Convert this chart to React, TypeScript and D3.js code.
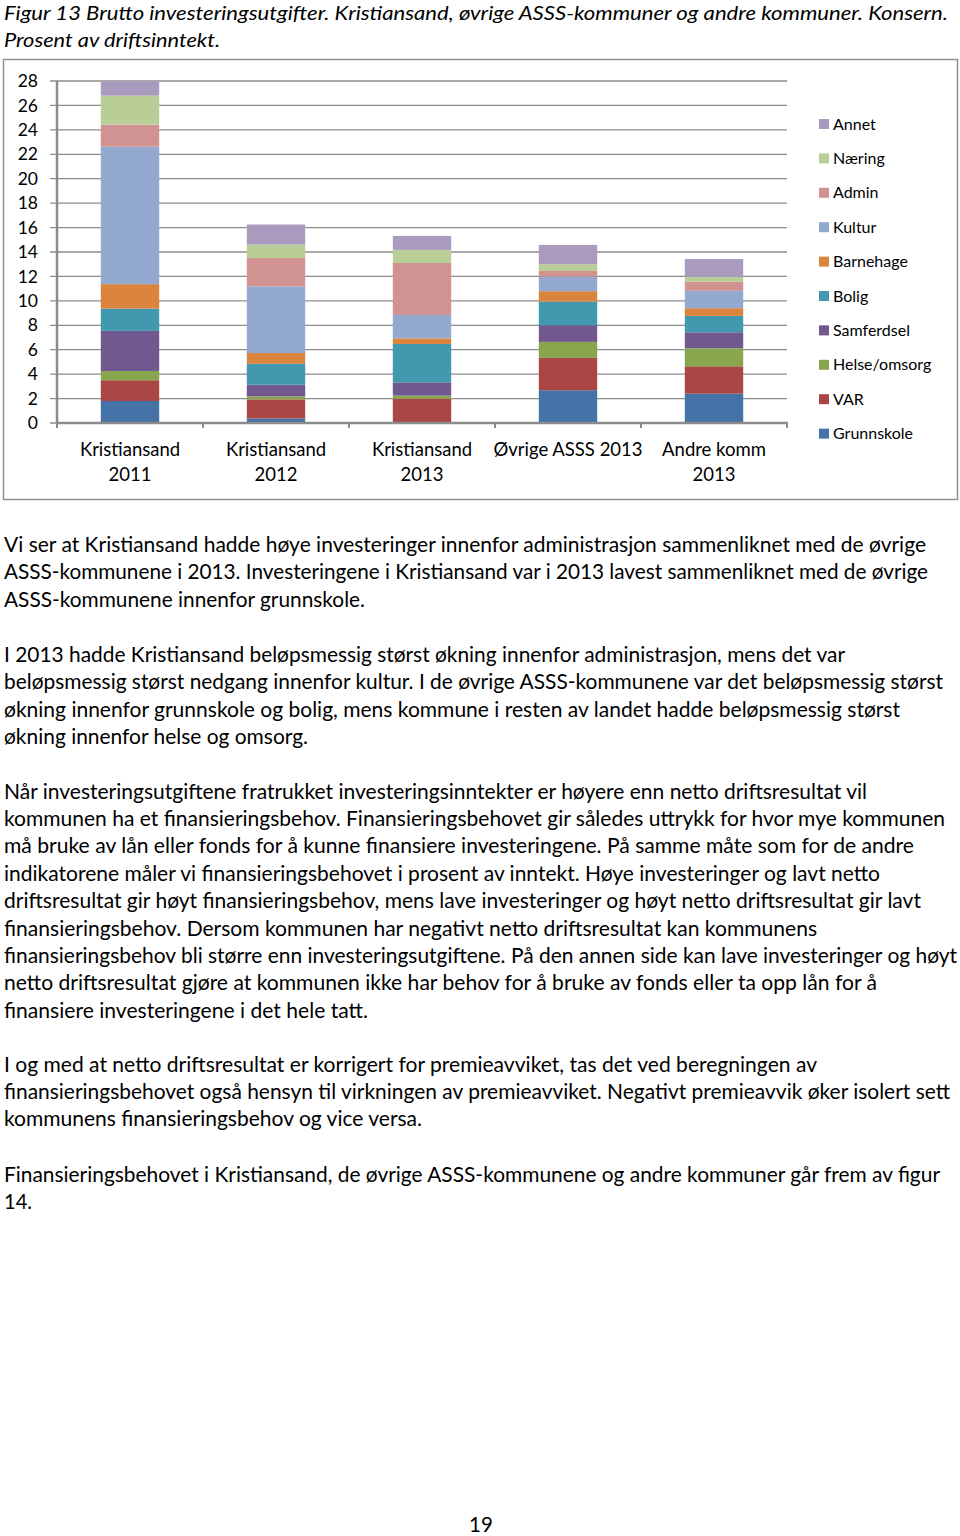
import React from "react";
import * as d3 from "d3";

const categories: string[][] = [
  ["Kristiansand", "2011"],
  ["Kristiansand", "2012"],
  ["Kristiansand", "2013"],
  ["Øvrige ASSS 2013"],
  ["Andre komm", "2013"],
];
const catKeys = ["K2011", "K2012", "K2013", "ASSS2013", "Andre2013"];

const seriesNames = ["Grunnskole", "VAR", "Helse/omsorg", "Samferdsel", "Bolig", "Barnehage", "Kultur", "Admin", "Næring", "Annet"];
const seriesColors = ["#4572A7", "#AA4643", "#89A54E", "#71588F", "#4198AF", "#DB843D", "#93A9CF", "#D19392", "#B9CD96", "#A99BBD"];

const grunnskole = [1.8, 0.38, 0.0, 2.68, 2.4];
const varVals = [1.7, 1.55, 1.99, 2.65, 2.24];
const helse = [0.76, 0.25, 0.25, 1.31, 1.48];
const samferdsel = [3.28, 0.95, 1.09, 1.36, 1.31];
const bolig = [1.83, 1.72, 3.14, 1.94, 1.34];
const barnehage = [2.0, 0.88, 0.46, 0.85, 0.63];
const kultur = [11.25, 5.46, 1.91, 1.2, 1.42];
const admin = [1.81, 2.32, 4.26, 0.46, 0.74];
const naering = [2.37, 1.1, 1.07, 0.55, 0.41];
const annet = [1.15, 1.64, 1.15, 1.58, 1.45];

const seriesValues = [grunnskole, varVals, helse, samferdsel, bolig, barnehage, kultur, admin, naering, annet];

const yTicks = [0, 2, 4, 6, 8, 10, 12, 14, 16, 18, 20, 22, 24, 26, 28];

const titleLines = [
  "Figur 13 Brutto investeringsutgifter. Kristiansand, øvrige ASSS-kommuner og andre kommuner. Konsern.",
  "Prosent av driftsinntekt.",
];
const titleWidths = [944, 216];

const paragraphs: { top: number; lines: string[]; widths: number[] }[] = [
  {
    top: 552,
    lines: [
      "Vi ser at Kristiansand hadde høye investeringer innenfor administrasjon sammenliknet med de øvrige",
      "ASSS-kommunene i 2013. Investeringene i Kristiansand var i 2013 lavest sammenliknet med de øvrige",
      "ASSS-kommunene innenfor grunnskole.",
    ],
    widths: [922, 924, 361],
  },
  {
    top: 662,
    lines: [
      "I 2013 hadde Kristiansand beløpsmessig størst økning innenfor administrasjon, mens det var",
      "beløpsmessig størst nedgang innenfor kultur. I de øvrige ASSS-kommunene var det beløpsmessig størst",
      "økning innenfor grunnskole og bolig, mens kommune i resten av landet hadde beløpsmessig størst",
      "økning innenfor helse og omsorg.",
    ],
    widths: [841, 939, 896, 304],
  },
  {
    top: 798.5,
    lines: [
      "Når investeringsutgiftene fratrukket investeringsinntekter er høyere enn netto driftsresultat vil",
      "kommunen ha et finansieringsbehov. Finansieringsbehovet gir således uttrykk for hvor mye kommunen",
      "må bruke av lån eller fonds for å kunne finansiere investeringene. På samme måte som for de andre",
      "indikatorene måler vi finansieringsbehovet i prosent av inntekt. Høye investeringer og lavt netto",
      "driftsresultat gir høyt finansieringsbehov, mens lave investeringer og høyt netto driftsresultat gir lavt",
      "finansieringsbehov. Dersom kommunen har negativt netto driftsresultat kan kommunens",
      "finansieringsbehov bli større enn investeringsutgiftene. På den annen side kan lave investeringer og høyt",
      "netto driftsresultat gjøre at kommunen ikke har behov for å bruke av fonds eller ta opp lån for å",
      "finansiere investeringene i det hele tatt.",
    ],
    widths: [863, 941, 910, 876, 917, 813, 953, 873, 364],
  },
  {
    top: 1071.5,
    lines: [
      "I og med at netto driftsresultat er korrigert for premieavviket, tas det ved beregningen av",
      "finansieringsbehovet også hensyn til virkningen av premieavviket. Negativt premieavvik øker isolert sett",
      "kommunens finansieringsbehov og vice versa.",
    ],
    widths: [813, 946, 418],
  },
  {
    top: 1181.5,
    lines: [
      "Finansieringsbehovet i Kristiansand, de øvrige ASSS-kommunene og andre kommuner går frem av figur",
      "14.",
    ],
    widths: [936, 28],
  },
];

const FONT = "Lato, 'Open Sans', sans-serif";

export default function App() {
  const x = d3.scaleBand<string>().domain(catKeys).range([57, 787]).paddingInner(0.6).paddingOuter(0.3);
  const step = x.step();
  const y = d3.scaleLinear().domain([0, 28]).range([423, 81]);

  const stacked = d3
    .stack<number>()
    .keys(seriesNames.map((_, i) => String(i)))
    .value((idx, key) => seriesValues[+key][idx])(d3.range(catKeys.length));

  const legendOrder = d3.range(seriesNames.length).reverse();
  const lineH = 27.4;

  return (
    <svg width={960} height={1536} style={{ position: "absolute", left: 0, top: 0, background: "#fff" }} fontFamily={FONT}>
      <rect x={0} y={0} width={960} height={1536} fill="#fff" />
      {titleLines.map((t, i) => (
        <text key={i} x={4} y={20 + i * 27} fontSize={20} fontStyle="italic" fill="#000" textLength={titleWidths[i]} lengthAdjust="spacingAndGlyphs">
          {t}
        </text>
      ))}

      <rect x={3.5} y={59.5} width={954} height={440} fill="#fff" stroke="#8f8f8f" strokeWidth={1.5} />

      {/* gridlines */}
      {yTicks.map((t) => (
        <line key={t} x1={50} x2={787} y1={y(t)} y2={y(t)} stroke="#8c8c8c" strokeWidth={1.3} />
      ))}
      {/* y axis */}
      <line x1={57} x2={57} y1={y(28)} y2={y(0) + 1} stroke="#8c8c8c" strokeWidth={2.5} />
      {yTicks.map((t) => (
        <text key={"l" + t} x={38} y={y(t)} dy="0.35em" textAnchor="end" fontSize={17.5} fill="#000">
          {t}
        </text>
      ))}

      {/* bars */}
      {stacked.map((s, si) => (
        <g key={si} fill={seriesColors[si]}>
          {s.map((d, ci) => (
            <rect key={ci} x={x(catKeys[ci])!} width={x.bandwidth()} y={y(d[1])} height={Math.max(0, y(d[0]) - y(d[1]))} />
          ))}
        </g>
      ))}

      {/* x axis */}
      <line x1={56} x2={788} y1={y(0)} y2={y(0)} stroke="#8c8c8c" strokeWidth={2.5} />
      {d3.range(catKeys.length + 1).map((i) => {
        const xx = 57 + i * step;
        return <line key={i} x1={xx} x2={xx} y1={y(0)} y2={y(0) + 5} stroke="#8c8c8c" strokeWidth={2} />;
      })}
      {categories.map((lines, ci) => {
        const cx = x(catKeys[ci])! + x.bandwidth() / 2;
        return lines.map((l, li) => (
          <text key={ci + "-" + li} x={cx} y={450 + li * 25} dy="0.35em" textAnchor="middle" fontSize={18.5} fill="#000">
            {l}
          </text>
        ));
      })}

      {/* legend */}
      {legendOrder.map((si, k) => {
        const cy = 124 + k * 34.4;
        return (
          <g key={si}>
            <rect x={819} y={cy - 5} width={10} height={10} fill={seriesColors[si]} />
            <text x={833} y={cy} dy="0.35em" fontSize={16} fill="#000">
              {seriesNames[si]}
            </text>
          </g>
        );
      })}

      {/* body text */}
      {paragraphs.map((p, pi) =>
        p.lines.map((l, li) => (
          <text key={pi + "-" + li} x={4} y={p.top + li * lineH} fontSize={20.5} fill="#000" textLength={p.widths[li]} lengthAdjust="spacingAndGlyphs">
            {l}
          </text>
        ))
      )}

      <text x={481} y={1532} textAnchor="middle" fontSize={20.5} fill="#000">
        19
      </text>
    </svg>
  );
}
